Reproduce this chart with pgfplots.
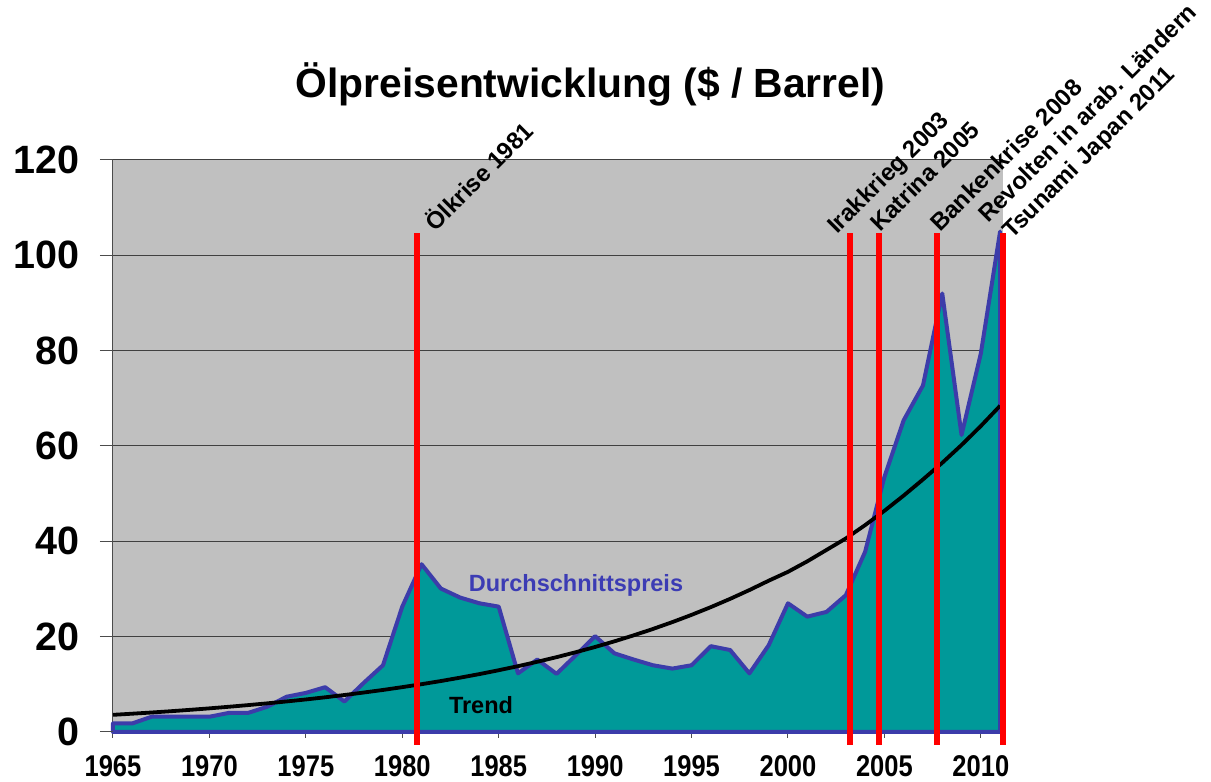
\documentclass[border=0pt]{standalone}
\usepackage{fontspec}
\setmainfont{Liberation Sans}
\usepackage{graphicx}
\usepackage{pgfplots}
\usepackage{pgfplotstable}
\pgfplotsset{compat=1.18}
\definecolor{areafill}{RGB}{0,153,153}
\definecolor{arealine}{RGB}{60,60,170}
\definecolor{bggray}{RGB}{192,192,192}
\definecolor{eventred}{RGB}{255,0,0}
\definecolor{labelblue}{RGB}{60,60,180}

\pgfplotstableread{
year price trend
1965 1.8 3.60
1966 1.8 3.84
1967 3.2 4.09
1968 3.2 4.36
1969 3.2 4.65
1970 3.2 4.96
1971 4.0 5.29
1972 4.0 5.64
1973 5.3 6.01
1974 7.4 6.41
1975 8.2 6.83
1976 9.4 7.28
1977 6.4 7.76
1978 10.3 8.28
1979 14.0 8.82
1980 26.3 9.41
1981 35.2 10.03
1982 30.1 10.69
1983 28.2 11.40
1984 27.0 12.15
1985 26.3 12.96
1986 12.3 13.81
1987 15.2 14.73
1988 12.2 15.70
1989 16.1 16.74
1990 20.1 17.84
1991 16.5 19.02
1992 15.2 20.28
1993 14.0 21.62
1994 13.3 23.05
1995 14.0 24.57
1996 18.0 26.20
1997 17.2 27.93
1998 12.3 29.78
1999 18.2 31.74
2000 27.0 33.60
2001 24.2 35.80
2002 25.2 38.20
2003 28.7 40.60
2004 37.8 43.40
2005 53.5 46.40
2006 65.4 49.60
2007 72.7 52.98
2008 92.0 56.48
2009 62.3 60.21
2010 79.4 64.19
2011 105.0 68.44
}\oilData

\begin{document}
\begin{tikzpicture}
\begin{axis}[
  at={(0pt,0pt)}, anchor=south west,
  scale only axis, width=890pt, height=572pt,
  xmin=1965, xmax=2011.15, ymin=0, ymax=120,
  axis x line*=bottom, axis y line*=left,
  axis line style={-, draw=black!70, line width=1pt},
  x axis line style={draw=arealine},
  axis background/.style={fill=bggray},
  clip=false,
  ymajorgrids, grid style={black!75, line width=1pt},
  ytick={0,20,40,60,80,100,120},
  xtick={1965,1970,1975,1980,1985,1990,1995,2000,2005,2010},
  xticklabels={\scalebox{0.85}[1]{1965},\scalebox{0.85}[1]{1970},\scalebox{0.85}[1]{1975},\scalebox{0.85}[1]{1980},\scalebox{0.85}[1]{1985},\scalebox{0.85}[1]{1990},\scalebox{0.85}[1]{1995},\scalebox{0.85}[1]{2000},\scalebox{0.85}[1]{2005},\scalebox{0.85}[1]{2010}},
  /pgf/number format/assume math mode=true,
  tick align=outside,
  major tick length=6pt,
  tick style={black!70, line width=1pt},
  yticklabel style={font=\fontsize{39.5}{40}\selectfont\bfseries, anchor=east, inner sep=0pt, xshift=-27pt},
  xticklabel style={font=\fontsize{30}{31}\selectfont\bfseries, anchor=north, inner sep=0pt, yshift=-17pt},
]
\addplot[fill=areafill, draw=arealine, line width=4pt, line join=round] table[x=year, y=price] {\oilData} \closedcycle;
\addplot[black, line width=3.8pt, line join=round] table[x=year, y=trend] {\oilData};
\addplot[eventred, line width=6pt, forget plot] coordinates {(1980.75,-2.7) (1980.75,104.6)};
\addplot[eventred, line width=6pt, forget plot] coordinates {(2003.2,-2.7) (2003.2,104.6)};
\addplot[eventred, line width=6pt, forget plot] coordinates {(2004.7,-2.7) (2004.7,104.6)};
\addplot[eventred, line width=6pt, forget plot] coordinates {(2007.75,-2.7) (2007.75,104.6)};
\addplot[eventred, line width=6pt, forget plot] coordinates {(2011.15,-2.7) (2011.15,104.6)};
\end{axis}
% longer y tick marks
\foreach \k in {0,1,...,6} {\draw[black!70, line width=1pt] (-13pt,{\k*572/6*1pt}) -- (0pt,{\k*572/6*1pt});}
% titles and annotations (pt relative to axis lower-left corner)
\node[anchor=base, font=\fontsize{40.8}{41}\selectfont\bfseries, inner sep=0pt] at (477.5pt,634pt) {Ölpreisentwicklung (\$ / Barrel)};
\node[anchor=base, font=\fontsize{23.5}{24}\selectfont\bfseries, text=labelblue, inner sep=0pt] at (463pt,140pt) {Durchschnittspreis};
\node[anchor=base, font=\fontsize{23.5}{24}\selectfont\bfseries, inner sep=0pt] at (368pt,18pt) {Trend};
\begin{scope}[every node/.style={anchor=base west, rotate=45, font=\fontsize{24}{24}\selectfont\bfseries, inner sep=0pt}]
\node at (322pt,499pt) {Ölkrise 1981};
\node at (724pt,497pt) {Irakkrieg 2003};
\node at (767pt,499pt) {Katrina 2005};
\node at (827pt,499pt) {Bankenkrise 2008};
\node at (875pt,508pt) {Revolten in arab. Ländern};
\node at (899pt,492pt) {Tsunami Japan 2011};
\end{scope}
\pgfresetboundingbox
\path[use as bounding box] (-113pt,-50pt) rectangle (1098pt,732pt);
\end{tikzpicture}
\end{document}
